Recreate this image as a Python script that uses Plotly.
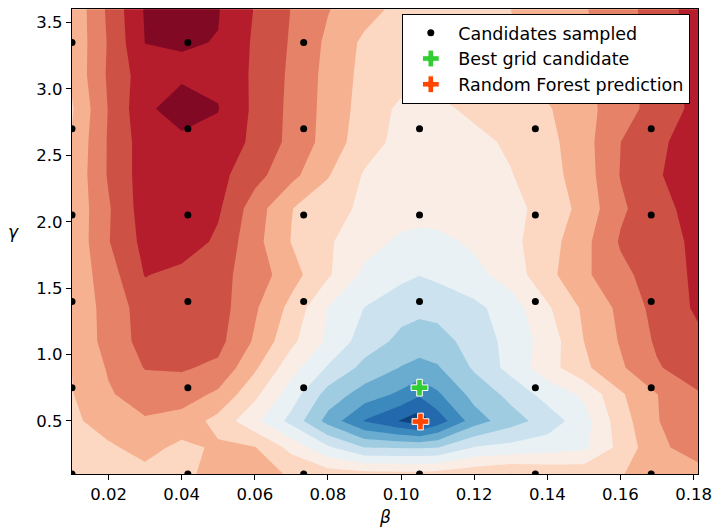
import plotly.graph_objects as go

# ---------------- data ----------------
beta = [0.01, 0.02, 0.03, 0.04, 0.05, 0.06, 0.07, 0.08, 0.09, 0.10, 0.105,
        0.11, 0.12, 0.13, 0.14, 0.15, 0.16, 0.17, 0.1812]
gamma = [0.1, 0.3, 0.5, 0.7, 0.9, 1.1, 1.35, 1.6, 1.85, 2.1, 2.35, 2.6,
         2.85, 3.1, 3.35, 3.6]

# predicted error surface (in contour-level units), rows follow gamma
score = [
    [8.6, 8.5, 8.7, 8.8, 9.3, 9.35, 8.9, 8.5, 8.35, 8.3, 8.3, 8.4, 8.7, 9.02, 8.8, 8.7, 8.95, 9.4, 9.6],
    [8.5, 8.85, 9.35, 8.75, 9.15, 9.05, 7.69, 6.16, 4.98, 4.9, 4.9, 4.97, 6.05, 6.3, 6.55, 6.8, 8.3, 9.75, 10.5],
    [8.8, 9.45, 9.9, 9.6, 8.67, 7.27, 5.69, 3.64, 1.94, 0.92, 0.4, 1.43, 3.52, 4.59, 5.42, 6.6, 8.54, 9.94, 10.9],
    [8.95, 9.9, 10.45, 10.5, 9.8, 8.25, 6.5, 4.6, 3.56, 2.79, 2.15, 2.85, 4.35, 5.27, 6.4, 7.17, 8.86, 9.98, 10.9],
    [9.02, 10.1, 11.05, 11.1, 10.8, 9.16, 7.38, 5.89, 4.7, 3.95, 3.7, 3.9, 5.13, 6.34, 7.56, 8.78, 9.85, 10.9, 11.6],
    [9.1, 10.4, 11.35, 11.6, 11.3, 9.87, 8.24, 6.82, 5.52, 4.75, 4.5, 4.65, 5.36, 6.36, 7.4, 9.0, 10.08, 11.15, 11.8],
    [9.2, 10.4, 11.45, 11.75, 11.45, 10.14, 8.71, 6.98, 5.98, 5.35, 5.25, 5.3, 5.74, 6.5, 7.85, 9.17, 10.23, 11.36, 12.15],
    [9.3, 10.55, 12.05, 11.7, 11.3, 10.55, 9.4, 8.14, 6.77, 6.26, 6.02, 6.22, 6.7, 7.44, 8.7, 9.8, 10.75, 11.44, 12.2],
    [9.2, 10.95, 12.3, 12.6, 11.8, 10.33, 8.97, 8.12, 7.42, 6.8, 6.7, 6.75, 7.17, 7.74, 8.56, 9.7, 11.1, 11.6, 12.2],
    [9.2, 10.9, 12.5, 12.7, 12.15, 10.5, 9.03, 8.4, 7.8, 7.5, 7.4, 7.45, 7.5, 7.75, 8.3, 9.35, 10.83, 11.66, 12.4],
    [9.2, 11.1, 12.5, 12.8, 12.3, 11.35, 10.3, 9.07, 7.9, 7.6, 7.5, 7.5, 7.6, 7.95, 8.6, 9.5, 11.04, 11.9, 12.6],
    [9.1, 11.1, 12.5, 12.7, 12.75, 11.74, 10.74, 9.6, 8.43, 7.7, 7.6, 7.6, 7.75, 8.15, 8.7, 9.6, 10.99, 11.8, 12.5],
    [8.9, 11.05, 12.75, 13.6, 13.03, 11.8, 10.77, 9.66, 8.6, 7.8, 7.75, 7.8, 8.2, 8.5, 8.9, 9.65, 10.57, 11.4, 12.3],
    [9.2, 11.15, 12.55, 12.8, 12.85, 11.82, 10.82, 9.7, 8.7, 8.4, 8.35, 8.3, 8.4, 8.85, 9.35, 9.8, 10.5, 11.4, 12.3],
    [9.2, 11.1, 13.02, 13.08, 12.97, 11.85, 10.9, 9.8, 8.8, 8.5, 8.45, 8.4, 8.5, 8.9, 9.35, 9.8, 10.5, 11.4, 12.4],
    [9.2, 11.2, 13.1, 13.5, 13.05, 11.95, 10.97, 10.05, 9.38, 8.7, 8.6, 8.5, 8.6, 9.0, 9.46, 9.92, 10.6, 11.44, 12.5],
]

cand_beta = [0.01, 0.04168, 0.07336, 0.10504, 0.13672, 0.1684]
cand_gamma = [0.1, 0.75, 1.4, 2.05, 2.7, 3.35]
best_beta, best_gamma = [0.10504], [0.75]
rf_beta, rf_gamma = [0.1053], [0.495]

x_ticks = [0.02, 0.04, 0.06, 0.08, 0.10, 0.12, 0.14, 0.16, 0.18]
y_ticks = [0.5, 1.0, 1.5, 2.0, 2.5, 3.0, 3.5]

# ---------------- colours: matplotlib RdBu_r, 14 filled bands ----------------
rdbu_r = ["#053061", "#2166ac", "#4393c3", "#92c5de", "#d1e5f0", "#f7f7f7",
          "#fddbc7", "#f4a582", "#d6604d", "#b2182b", "#67001f"]


def cmap(t):
    t = min(max(t, 0.0), 1.0)
    pos = t * (len(rdbu_r) - 1)
    i = min(int(pos), len(rdbu_r) - 2)
    f = pos - i
    a = [int(rdbu_r[i][k:k + 2], 16) for k in (1, 3, 5)]
    b = [int(rdbu_r[i + 1][k:k + 2], 16) for k in (1, 3, 5)]
    c = [round(a[j] + (b[j] - a[j]) * f) for j in range(3)]
    return "rgb(%d,%d,%d)" % tuple(c)


n_bands = 14
band_colors = [cmap((i + 0.5) / n_bands) for i in range(n_bands)]
colorscale = [[i / (n_bands - 1), band_colors[i]] for i in range(n_bands)]

FONT = "DejaVu Sans"

fig = go.Figure()
fig.add_trace(go.Contour(
    x=beta, y=gamma, z=score,
    autocontour=False,
    contours=dict(start=1, end=13, size=1, coloring="fill", showlines=False),
    colorscale=colorscale, showscale=False, line=dict(width=0, smoothing=0),
    showlegend=False, hoverinfo="skip",
))

cx = [b for g in cand_gamma for b in cand_beta]
cy = [g for g in cand_gamma for b in cand_beta]
fig.add_trace(go.Scatter(
    x=cx, y=cy, mode="markers", name="Candidates sampled",
    marker=dict(color="black", size=7, line=dict(width=0)),
))
fig.add_trace(go.Scatter(
    x=best_beta, y=best_gamma, mode="markers", name="Best grid candidate",
    marker=dict(symbol="cross", color="#32cd32", size=14, line=dict(color="white", width=1)),
))
fig.add_trace(go.Scatter(
    x=rf_beta, y=rf_gamma, mode="markers", name="Random Forest prediction",
    marker=dict(symbol="cross", color="#ff4500", size=14, line=dict(color="white", width=1)),
))

axis_common = dict(
    showgrid=False, zeroline=False, showline=True, linecolor="black", linewidth=1.3,
    mirror=True, ticks="outside", ticklen=5, tickwidth=1.3, tickcolor="black",
    tickfont=dict(family=FONT, size=16.5, color="black"), automargin=False,
)
fig.update_xaxes(range=[0.01, 0.1812], tickvals=x_ticks,
                 ticktext=["%.2f" % v for v in x_ticks], **axis_common)
fig.update_yaxes(range=[0.1, 3.602], tickvals=y_ticks,
                 ticktext=["%.1f" % v for v in y_ticks], **axis_common)

fig.update_layout(
    width=712, height=527,
    margin=dict(l=72, r=14, t=9, b=53),
    paper_bgcolor="white", plot_bgcolor="white",
    font=dict(family=FONT, color="black"),
    legend=dict(
        x=0.9877, y=0.9895, xanchor="right", yanchor="top",
        bgcolor="white", bordercolor="black", borderwidth=1,
        font=dict(family=FONT, size=17.5, color="black"),
        itemwidth=45, tracegroupgap=0,
    ),
    annotations=[
        dict(text="<i>β</i>", xref="paper", yref="paper", x=0.5, y=-0.092,
             showarrow=False, xanchor="center", yanchor="middle",
             font=dict(family=FONT, size=17, color="black")),
        dict(text="<i>γ</i>", xref="paper", yref="paper", x=-0.094, y=0.52,
             showarrow=False, xanchor="center", yanchor="middle",
             font=dict(family=FONT, size=17, color="black")),
    ],
)

fig.write_html("out.html")
